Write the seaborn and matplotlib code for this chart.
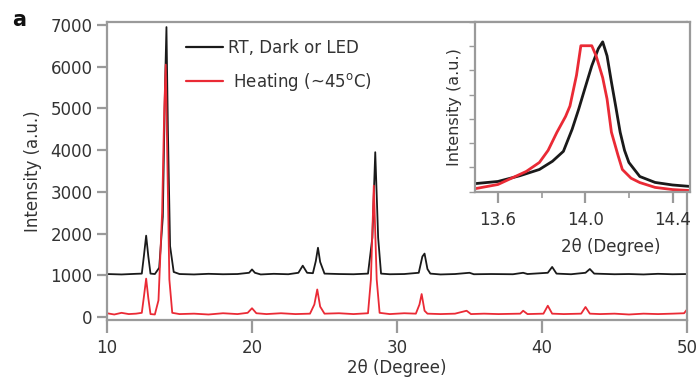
import matplotlib
matplotlib.use("Agg")
import matplotlib.pyplot as plt
import seaborn as sns
import pandas as pd

# ---- main XRD patterns (2theta in degrees, intensity in counts) ----
rt_x = [10.0, 11.0, 12.0, 12.4, 12.55, 12.7, 12.85, 13.0, 13.3, 13.6, 13.85, 14.0, 14.1, 14.2, 14.35,
        14.6, 15.0, 16.0, 17.0, 18.0, 19.0, 19.8, 20.0, 20.2, 20.6, 21.5, 22.5, 23.2, 23.5, 23.8,
        24.2, 24.4, 24.55, 24.7, 25.0, 26.0, 27.0, 28.0, 28.3, 28.5, 28.7, 28.9, 29.5, 30.5, 31.5,
        31.75, 31.9, 32.1, 32.3, 33.0, 34.0, 35.0, 35.3, 36.5, 38.0, 38.7, 39.0, 40.4, 40.7, 41.0,
        42.0, 43.0, 43.3, 43.6, 45.0, 46.0, 47.0, 48.0, 49.0, 50.0]
rt_y = [30, 20, 35, 40, 480, 950, 450, 40, 30, 180, 1400, 4500, 5950, 3500, 700,
        80, 30, 20, 35, 25, 30, 60, 140, 60, 20, 35, 25, 60, 230, 60,
        50, 340, 660, 320, 40, 30, 25, 40, 900, 2950, 900, 40, 25, 30, 60,
        450, 520, 150, 40, 20, 30, 60, 25, 30, 25, 60, 30, 60, 200, 40,
        25, 60, 150, 40, 25, 30, 20, 35, 25, 30]
rt_offset = 1000

heat_x = [10.0, 10.5, 11.0, 11.5, 12.0, 12.4, 12.55, 12.7, 12.85, 13.0, 13.3, 13.55, 13.8, 13.95,
          14.05, 14.15, 14.3, 14.5, 15.0, 16.0, 17.0, 18.0, 19.0, 19.7, 20.0, 20.3, 21.0, 22.0,
          23.0, 24.0, 24.3, 24.5, 24.7, 25.0, 26.0, 27.0, 28.0, 28.2, 28.4, 28.6, 28.8, 29.5,
          30.5, 31.3, 31.55, 31.7, 31.9, 32.1, 33.0, 34.0, 34.8, 35.1, 36.0, 37.0, 38.5, 38.7,
          39.0, 40.1, 40.4, 40.7, 41.5, 42.7, 43.0, 43.3, 44.0, 45.0, 46.0, 47.0, 48.0, 49.0,
          49.8, 50.0]
heat_y = [90, 60, 100, 70, 80, 100, 500, 920, 450, 70, 60, 400, 2500, 5000,
          6050, 4000, 900, 100, 70, 80, 60, 90, 70, 100, 210, 90, 70, 90,
          70, 80, 300, 660, 250, 80, 90, 70, 90, 900, 3150, 900, 100, 70,
          90, 80, 300, 550, 150, 80, 70, 80, 150, 70, 80, 70, 80, 150,
          70, 80, 270, 80, 70, 80, 240, 80, 70, 80, 60, 80, 70, 80,
          90, 180]

# ---- zoom on the strongest reflection ----
rt_zoom_x = [13.5, 13.6, 13.7, 13.79, 13.85, 13.9, 13.94, 13.97, 14.0, 14.03, 14.06, 14.08, 14.1,
             14.12, 14.14, 14.16, 14.18, 14.2, 14.25, 14.32, 14.4, 14.48]
rt_zoom_y = [330, 415, 650, 910, 1250, 1660, 2570, 3400, 4300, 5190, 5900, 6180, 5600,
             4520, 3500, 2450, 1700, 1200, 620, 375, 270, 210]
heat_zoom_x = [13.5, 13.6, 13.73, 13.79, 13.83, 13.87, 13.91, 13.93, 13.96, 13.98, 14.03, 14.05,
               14.08, 14.1, 14.12, 14.15, 14.17, 14.21, 14.25, 14.32, 14.4, 14.48]
heat_zoom_y = [125, 290, 830, 1200, 1700, 2440, 3100, 3530, 4800, 6020, 6020, 5600,
               4700, 3820, 2450, 1500, 910, 550, 370, 170, 80, 40]

main_xticks = [10, 20, 30, 40, 50]
main_yticks = [0, 1000, 2000, 3000, 4000, 5000, 6000, 7000]
zoom_xticks = [13.6, 14.0, 14.4]
zoom_minor = [13.8, 14.2]
zoom_yticks = [0, 1000, 2000, 3000, 4000, 5000, 6000, 7000]

rt_label = "RT, Dark or LED"
heat_label = " Heating (~45$^{\\mathregular{o}}$C)"

BLACK = "#1a1a1a"
RED = "#ea2a35"
SPINE = "#9a9a9a"
TEXT = "#333333"

sns.set_theme(style="ticks")
plt.rcParams["font.family"] = ["DejaVu Sans"]
plt.rcParams["mathtext.default"] = "regular"

fig = plt.figure(figsize=(6.99, 3.79), dpi=100)
W, H = 699, 379


def px_axes(x0, y0, x1, y1):
    return fig.add_axes([x0 / W, 1 - y1 / H, (x1 - x0) / W, (y1 - y0) / H])


def style_axes(ax, fs=12):
    for s in ax.spines.values():
        s.set_color(SPINE)
        s.set_linewidth(1.6)
    ax.tick_params(colors=SPINE, labelcolor=TEXT, labelsize=fs, width=1.6, length=7, direction="out")


ax = px_axes(107, 22, 687, 320)
main = pd.concat([
    pd.DataFrame({"angle": rt_x, "intensity": [v + rt_offset for v in rt_y], "sample": rt_label}),
    pd.DataFrame({"angle": heat_x, "intensity": heat_y, "sample": heat_label}),
])
sns.lineplot(data=main, x="angle", y="intensity", hue="sample", palette=[BLACK, RED],
             estimator=None, linewidth=1.3, ax=ax)
ax.set_xlim(10, 50)
ax.set_ylim(-72, 7072)
ax.set_xticks(main_xticks)
ax.set_yticks(main_yticks)
style_axes(ax)
ax.tick_params(axis="x", length=9, pad=5)
ax.set_xlabel("2θ (Degree)", fontsize=12, color=TEXT, labelpad=1)
ax.set_ylabel("Intensity (a.u.)", fontsize=12, color=TEXT, labelpad=6)

leg = ax.legend(loc="upper left", bbox_to_anchor=((186 - 107) / 580, 1 - (39 - 22) / 298),
                frameon=False, fontsize=12, handlelength=2.2, handletextpad=0.3,
                labelspacing=0.85, borderpad=0, borderaxespad=0)
for t in leg.get_texts():
    t.set_color(TEXT)
for h in leg.get_lines():
    h.set_linewidth(1.6)

fig.text(12 / W, 1 - 20 / H, "a", fontsize=15, fontweight="bold", color="#111111", va="center")

# inset
ins = px_axes(475, 22, 690, 192)
ins.set_facecolor("white")
zoom = pd.concat([
    pd.DataFrame({"angle": rt_zoom_x, "intensity": rt_zoom_y, "sample": rt_label}),
    pd.DataFrame({"angle": heat_zoom_x, "intensity": heat_zoom_y, "sample": heat_label}),
])
sns.lineplot(data=zoom, x="angle", y="intensity", hue="sample", palette=[BLACK, RED],
             estimator=None, linewidth=2.0, legend=False, ax=ins)
ins.set_xlim(13.495, 14.48)
ins.set_ylim(-20, 7000)
ins.set_xticks(zoom_xticks)
ins.set_xticks(zoom_minor, minor=True)
ins.set_yticks(zoom_yticks)
ins.set_yticklabels([])
style_axes(ins)
ins.tick_params(axis="y", length=4, width=1.0)
ins.tick_params(axis="x", which="major", length=8, pad=6)
ins.tick_params(axis="x", which="minor", length=4, width=1.2, colors=SPINE)
ins.set_xlabel("2θ (Degree)", fontsize=12, color=TEXT, labelpad=1)
ins.xaxis.set_label_coords(0.63, -0.27)
ins.set_ylabel("Intensity (a.u.)", fontsize=11.5, color=TEXT, labelpad=2)

fig.savefig("out.png", dpi=100)
